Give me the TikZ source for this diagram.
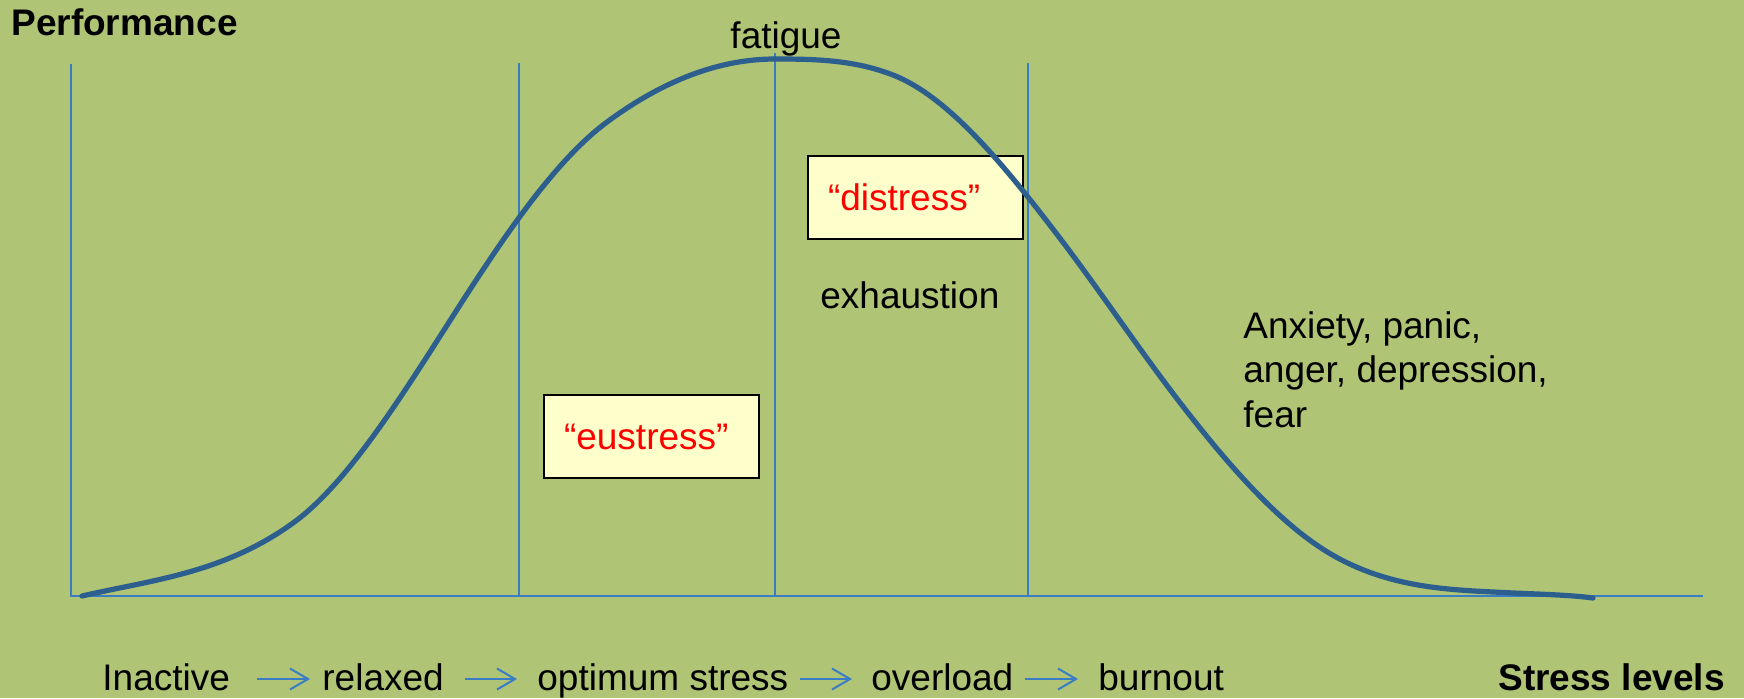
\documentclass[tikz,border=0pt]{standalone}
\usepackage{fontspec}
\setmainfont{Liberation Sans}
\usetikzlibrary{arrows.meta}
\definecolor{bg}{RGB}{175,196,117}
\definecolor{curvecol}{RGB}{44,94,142}
\definecolor{gridcol}{RGB}{59,125,196}
\definecolor{boxfill}{RGB}{255,255,204}
\definecolor{redtxt}{RGB}{255,0,0}
\begin{document}
\begin{tikzpicture}[x=0.5pt,y=-0.5pt,
  txt/.style={inner sep=0pt, font=\fontsize{18.5pt}{22.25pt}\selectfont, anchor=base west},
  boldtxt/.style={txt, font=\fontsize{18.5pt}{22.25pt}\selectfont\bfseries},
  labelbox/.style={draw=black, line width=1pt, fill=boxfill, text=redtxt,
    font=\fontsize{18.5pt}{22.25pt}\selectfont,
    minimum width=107.5pt, minimum height=41.5pt, text width=87.5pt,
    inner xsep=10pt, inner ysep=0pt, align=left},
  gridline/.style={draw=gridcol, line width=0.8pt},
  curveline/.style={draw=curvecol, line width=2.6pt, line cap=round},
  flow/.style={draw=gridcol, line width=1pt, -{Straight Barb[length=9pt,width=10.5pt]}}]
\fill[bg] (0,0) rectangle (1744,698);
\useasboundingbox (0,0) rectangle (1744,698);
% axes and guide lines
\coordinate (ytop) at (71,64);
\coordinate (origin) at (71,596);
\coordinate (xend) at (1703,596);
\draw[gridline] (ytop) -- (origin) -- (xend);
\draw[gridline] (519,63) -- (519,596);
\draw[gridline] (775,53) -- (775,596);
\draw[gridline] (1028,63) -- (1028,596);
% labels
\node[boldtxt] (perf) at (11,35) {Performance};
\node[txt, anchor=base] (fatigue) at (786,48) {fatigue};
\node[labelbox] (distress) at (915.5,197.5) {“distress”};
\node[txt] (exh) at (820,308) {exhaustion};
\node[labelbox] (eustress) at (651.5,436.5) {“eustress”};
\node[txt, align=left] (anx) at (1243,427) {Anxiety, panic,\\anger, depression,\\fear};
% curve
\draw[curveline] (82,596)
  .. controls (152.3,579.8) and (222.7,573.6) .. (293,523)
  .. controls (348.7,482.9) and (404.3,391.9) .. (460,305)
  .. controls (509,228.6) and (558,158.3) .. (607,122)
  .. controls (663,80.6) and (719,59) .. (775,59)
  .. controls (814.3,59) and (853.7,59.7) .. (893,75)
  .. controls (948.3,96.6) and (1003.7,164.5) .. (1059,237)
  .. controls (1098.7,289) and (1138.3,348.4) .. (1178,400)
  .. controls (1230.7,468.5) and (1283.3,528) .. (1336,557)
  .. controls (1395.3,589.6) and (1454.7,590) .. (1514,593)
  .. controls (1550,594.5) and (1575,595.5) .. (1593,598);
% bottom row
\node[txt] (inactive) at (102,690) {Inactive};
\node[txt] (relaxed) at (322,690) {relaxed};
\node[txt] (optimum) at (537,690) {optimum stress};
\node[txt] (overload) at (871,690) {overload};
\node[txt] (burnout) at (1098,690) {burnout};
\node[boldtxt] (stress) at (1498,690) {Stress levels};
\draw[flow] ([shift={(27,-11)}]inactive.base east) -- ([shift={(-12,-11)}]relaxed.base west);
\draw[flow] ([shift={(21,-11)}]relaxed.base east) -- ([shift={(-20,-11)}]optimum.base west);
\draw[flow] ([shift={(11,-11)}]optimum.base east) -- ([shift={(-19,-11)}]overload.base west);
\draw[flow] ([shift={(11,-11)}]overload.base east) -- ([shift={(-20,-11)}]burnout.base west);
\end{tikzpicture}
\end{document}
